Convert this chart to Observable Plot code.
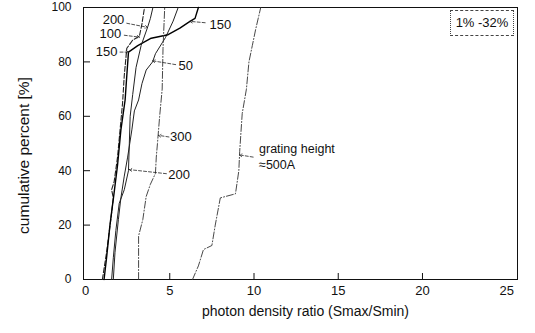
<!DOCTYPE html>
<html>
<head>
<meta charset="utf-8">
<script src="https://cdn.jsdelivr.net/npm/d3@7"></script>
<script src="https://cdn.jsdelivr.net/npm/@observablehq/plot@0.6"></script>
<style>
  html, body { margin: 0; padding: 0; background: #fff; }
  #wrap { position: relative; width: 535px; height: 333px; font-family: "Liberation Sans", Arial, sans-serif; }
  #legend { position: absolute; left: 450px; top: 10px; width: 62px; height: 24px; border: 1px dashed #444;
            border-left-style: dotted; border-right-style: dotted; font-size: 13px; line-height: 24px; text-align: center; color: #111; }
</style>
</head>
<body>
<div id="wrap"><div id="legend">1% -32%</div></div>
<script>
// ---- data ----
const xTicks = [0, 5, 10, 15, 20, 25];
const yTicks = [0, 20, 40, 60, 80, 100];
const heights = ["50", "100", "150", "200", "300", "500"];

const x50  = [1.65, 1.75, 1.95, 2.1, 2.3, 2.5, 2.75, 2.9, 3.15, 3.35, 3.6, 3.98, 4.15, 4.55, 4.75, 5.2, 5.5];
const y50  = [0, 10, 22, 30, 38, 45, 55, 62, 66, 72, 77, 80, 83, 87, 89, 95, 100];
const x100 = [1.0, 1.25, 1.5, 1.65, 1.55, 1.7, 1.9, 2.05, 2.2, 2.3, 2.45, 2.8, 3.2, 3.35, 3.5];
const y100 = [0, 10, 22, 30, 33, 36, 45, 55, 65, 75, 85, 88, 89.5, 94, 100];
const x150 = [1.1, 1.25, 1.45, 1.7, 1.9, 2.1, 2.35, 2.45, 2.55, 3.1, 3.9, 4.9, 5.6, 6.2, 6.5, 6.7];
const y150 = [0, 8, 20, 32, 42, 55, 66, 75, 83.6, 86, 88.7, 90, 92.4, 94.9, 96, 100];
const x200 = [1.55, 1.65, 1.8, 2.0, 2.3, 2.55, 2.6, 2.65, 2.8, 3.0, 3.3, 3.7, 3.85, 4.0];
const y200 = [0, 8, 18, 28, 33, 40, 50, 60, 68, 78, 86, 93, 96, 100];
const x300 = [3.15, 3.15, 3.4, 3.6, 3.85, 4.15, 4.2, 4.27, 4.4, 4.55, 4.6, 4.7];
const y300 = [0, 16, 22, 30.5, 35, 39, 45, 50, 60, 70, 85, 100];
const x500 = [6.35, 6.7, 7.0, 7.5, 7.7, 8.0, 8.9, 9.1, 9.15, 9.3, 9.55, 9.7, 9.9, 10.1, 10.4];
const y500 = [0, 5, 11, 12.5, 20, 30, 31.5, 40, 47, 61, 70, 80, 86, 92, 100];

const labelTexts = ["200", "100", "150", "150", "50", "300", "200"];
const labelX = [1.66, 1.48, 1.25, 8.0, 5.95, 5.66, 5.55];
const labelY = [95.6, 90.5, 83.6, 93.8, 78.5, 52.4, 38.5];
const arrowFromX = [2.45, 2.3, 2.05, 7.1, 5.35, 4.95, 4.8];
const arrowFromY = [94.2, 89.8, 83.6, 94.4, 79.0, 52.4, 38.9];
const arrowToX = [3.68, 3.2, 2.55, 6.2, 3.98, 4.33, 2.6];
const arrowToY = [92.7, 89.1, 83.6, 94.9, 80.4, 53.0, 40.4];

// ---- build tables ----
const seriesXs = {"50": x50, "100": x100, "150": x150, "200": x200, "300": x300, "500": x500};
const seriesYs = {"50": y50, "100": y100, "150": y150, "200": y200, "300": y300, "500": y500};
const styles = {
  "50":  {stroke: "#222", strokeWidth: 1.0},
  "100": {stroke: "#222", strokeWidth: 1.1, strokeDasharray: "5,2"},
  "150": {stroke: "#000", strokeWidth: 1.4},
  "200": {stroke: "#222", strokeWidth: 1.0},
  "300": {stroke: "#333", strokeWidth: 0.9, strokeDasharray: "7,2,1,2"},
  "500": {stroke: "#333", strokeWidth: 0.9, strokeDasharray: "7,2,1,2"}
};
const lineMarks = heights.map(h => {
  const rows = seriesXs[h].map((x, i) => ({x, y: seriesYs[h][i]}));
  return Plot.line(rows, {x: "x", y: "y", ...styles[h]});
});
const labels = labelTexts.map((t, i) => ({t, x: labelX[i], y: labelY[i],
  x1: arrowFromX[i], y1: arrowFromY[i], x2: arrowToX[i], y2: arrowToY[i]}));

const font = "Liberation Sans, Arial, sans-serif";
const chart = Plot.plot({
  width: 535,
  height: 333,
  marginLeft: 83,
  marginRight: 18,
  marginTop: 7,
  marginBottom: 54,
  style: {fontFamily: font, background: "#fff", color: "#111"},
  x: {domain: [-0.12, 25.64]},
  y: {domain: [0, 100]},
  marks: [
    Plot.frame({stroke: "#111", strokeWidth: 1}),
    Plot.axisX({ticks: xTicks, tickSize: 0, tickPadding: 6, fontSize: 13, label: null}),
    Plot.axisX({ticks: xTicks.slice(1, 5), tickSize: -6, text: null, label: null}),
    Plot.axisY({ticks: yTicks, tickSize: 0, tickPadding: 12, fontSize: 12, label: null}),
    Plot.axisY({ticks: yTicks.slice(1, 5), tickSize: -7, text: null, label: null}),
    Plot.text(["photon density ratio (Smax/Smin)"], {frameAnchor: "bottom", dy: 36, dx: 5, fontSize: 14, fill: "#111"}),
    Plot.text(["cumulative percent [%]"], {frameAnchor: "left", textAnchor: "middle", dx: -59, dy: 12, rotate: -90, fontSize: 15.5, fill: "#111"}),
    ...lineMarks,
    Plot.arrow(labels, {x1: "x1", y1: "y1", x2: "x2", y2: "y2", stroke: "#222", strokeWidth: 0.8,
      strokeDasharray: "3,2", headLength: 5}),
    Plot.text(labels, {x: "x", y: "y", text: "t", fontSize: 13, fill: "#111"}),
    Plot.text(["grating height", "\u2248500A"], {x: [10.3, 10.3], y: [48, 42.2], text: d => d,
      textAnchor: "start", fontSize: 12.5, fill: "#111"}),
    Plot.arrow([{x1: 9.95, y1: 45, x2: 9.14, y2: 45.8}], {x1: "x1", y1: "y1", x2: "x2", y2: "y2",
      stroke: "#222", strokeWidth: 0.8, strokeDasharray: "3,2", headLength: 5})
  ]
});
document.getElementById("wrap").prepend(chart);
</script>
</body>
</html>
